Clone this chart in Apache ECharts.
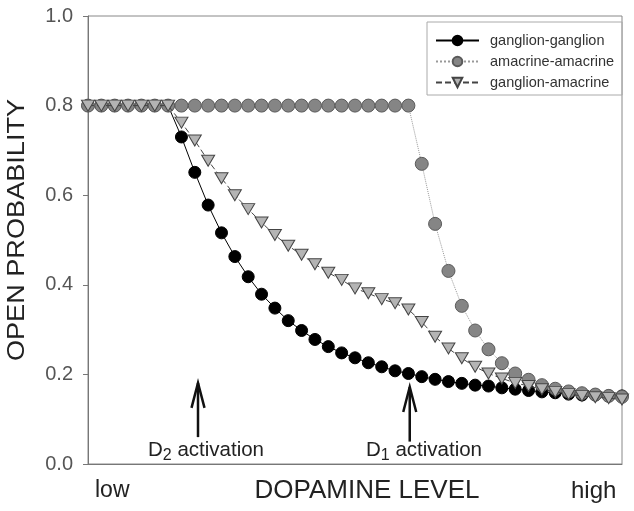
<!DOCTYPE html>
<html><head><meta charset="utf-8">
<script src="https://cdn.jsdelivr.net/npm/echarts@6/dist/echarts.min.js"></script>
<style>html,body{margin:0;padding:0;background:#fff}#c{width:634px;height:511px}</style>
</head><body><div id="c"></div>
<script>
// Dopamine level steps (low -> high)
const levels = [0,1,2,3,4,5,6,7,8,9,10,11,12,13,14,15,16,17,18,19,20,21,22,23,24,25,26,27,28,29,30,31,32,33,34,35,36,37,38,39,40];
const ganglionGanglion = [0.8,0.8,0.8,0.8,0.8,0.8,0.8,0.730,0.651,0.578,0.516,0.463,0.418,0.379,0.348,0.320,0.298,0.278,0.262,0.248,0.237,0.226,0.217,0.208,0.202,0.195,0.189,0.184,0.180,0.176,0.174,0.170,0.167,0.164,0.161,0.159,0.156,0.154,0.154,0.152,0.152];
const amacrineAmacrine = [0.8,0.8,0.8,0.8,0.8,0.8,0.8,0.8,0.8,0.8,0.8,0.8,0.8,0.8,0.8,0.8,0.8,0.8,0.8,0.8,0.8,0.8,0.8,0.8,0.8,0.670,0.536,0.431,0.353,0.298,0.256,0.225,0.202,0.188,0.176,0.168,0.162,0.158,0.155,0.152,0.150];
const ganglionAmacrine = [0.8,0.8,0.8,0.8,0.8,0.8,0.8,0.762,0.722,0.677,0.638,0.600,0.569,0.539,0.511,0.487,0.467,0.446,0.427,0.411,0.392,0.381,0.368,0.359,0.345,0.317,0.284,0.258,0.236,0.217,0.202,0.191,0.181,0.174,0.167,0.161,0.156,0.152,0.149,0.147,0.144];
const seriesNames = ['ganglion-ganglion','amacrine-amacrine','ganglion-amacrine'];
const yTicks = [0.0,0.2,0.4,0.6,0.8,1.0];
// annotation arrows: [x level, y bottom, y tip]
const arrowD2 = [8.24, 0.06, 0.181];
const arrowD1 = [24.1, 0.05, 0.172];

const pair = arr => levels.map((x,i)=>[x, arr[i]]);
const FONT = 'Liberation Sans, Arial, sans-serif';

const chart = echarts.init(document.getElementById('c'), null, {renderer:'canvas'});
chart.setOption({
  animation:false,
  backgroundColor:'#fff',
  grid:{left:88, right:12, top:16, bottom:47, show:true, borderColor:'#888', borderWidth:1},
  legend:{
    orient:'vertical', left:427, top:22, width:190,
    padding:[11,8,5,8], itemGap:6, itemWidth:43, itemHeight:12,
    borderColor:'#aaa', borderWidth:1,
    textStyle:{fontFamily:FONT, fontSize:14.5, color:'#333', padding:[0,0,0,6]},
    data:seriesNames
  },
  xAxis:{type:'value', min:0, max:40, axisLine:{show:true, lineStyle:{color:'#777'}}, axisTick:{show:false}, axisLabel:{show:false}, splitLine:{show:false}},
  yAxis:{type:'value', min:yTicks[0], max:yTicks[yTicks.length-1], interval:0.2,
    axisLine:{show:true, lineStyle:{color:'#777'}},
    axisTick:{show:true, length:5, lineStyle:{color:'#777'}},
    axisLabel:{margin:15, fontFamily:FONT, fontSize:20, color:'#555', formatter:v=>v.toFixed(1)},
    splitLine:{show:false}},
  series:[
    {name:seriesNames[0], type:'line', data:pair(ganglionGanglion), symbol:'circle', symbolSize:12,
     lineStyle:{color:'#000', width:1, type:'solid'}, itemStyle:{color:'#000', borderColor:'#000', borderWidth:1}, z:2},
    {name:seriesNames[1], type:'line', data:pair(amacrineAmacrine), symbol:'circle', symbolSize:13,
     lineStyle:{color:'#999', width:1, type:'dotted'}, itemStyle:{color:'#858585', borderColor:'#5a5a5a', borderWidth:1}, z:3},
    {name:seriesNames[2], type:'line', data:pair(ganglionAmacrine), symbol:'triangle', symbolRotate:180, symbolSize:[13,11],
     lineStyle:{color:'#444', width:1, type:[6,3]}, itemStyle:{color:'#b4b4b4', borderColor:'#444', borderWidth:1}, z:4}
  ]
});

function arrow(a){
  const b = chart.convertToPixel({gridIndex:0},[a[0],a[1]]);
  const t = chart.convertToPixel({gridIndex:0},[a[0],a[2]]);
  return {type:'group', children:[
    {type:'line', shape:{x1:b[0],y1:b[1],x2:t[0],y2:t[1]}, style:{stroke:'#111', lineWidth:2.5}},
    {type:'polyline', shape:{points:[[t[0]-6.5,t[1]+25],[t[0],t[1]],[t[0]+6.5,t[1]+25]]}, style:{stroke:'#111', lineWidth:2.5, fill:null}}
  ]};
}
const gb = chart.convertToPixel({gridIndex:0},[0,0]);
const gt = chart.convertToPixel({gridIndex:0},[40,1]);
const rich = {s:{fontSize:16, padding:[11,0,0,0], fontFamily:FONT, fill:'#222'}};
chart.setOption({graphic:[
  arrow(arrowD2), arrow(arrowD1),
  {type:'text', left:148, top:440, style:{text:'D{s|2} activation', rich:rich, font:'20.5px '+FONT, fill:'#222'}},
  {type:'text', left:366, top:440, style:{text:'D{s|1} activation', rich:rich, font:'20.5px '+FONT, fill:'#222'}},
  {type:'text', left:95, top:479, style:{text:'low', font:'23px '+FONT, fill:'#222'}},
  {type:'text', left:571, top:479, style:{text:'high', font:'24px '+FONT, fill:'#222'}},
  {type:'text', x:(gb[0]+gt[0])/2 + 12, y:491, style:{text:'DOPAMINE LEVEL', font:'26px '+FONT, fill:'#222', align:'center', verticalAlign:'middle'}},
  {type:'text', x:17, y:230, rotation:Math.PI/2, scaleX:1.13, style:{text:'OPEN PROBABILITY', font:'24px '+FONT, fill:'#222', align:'center', verticalAlign:'middle'}}
]});
</script></body></html>
